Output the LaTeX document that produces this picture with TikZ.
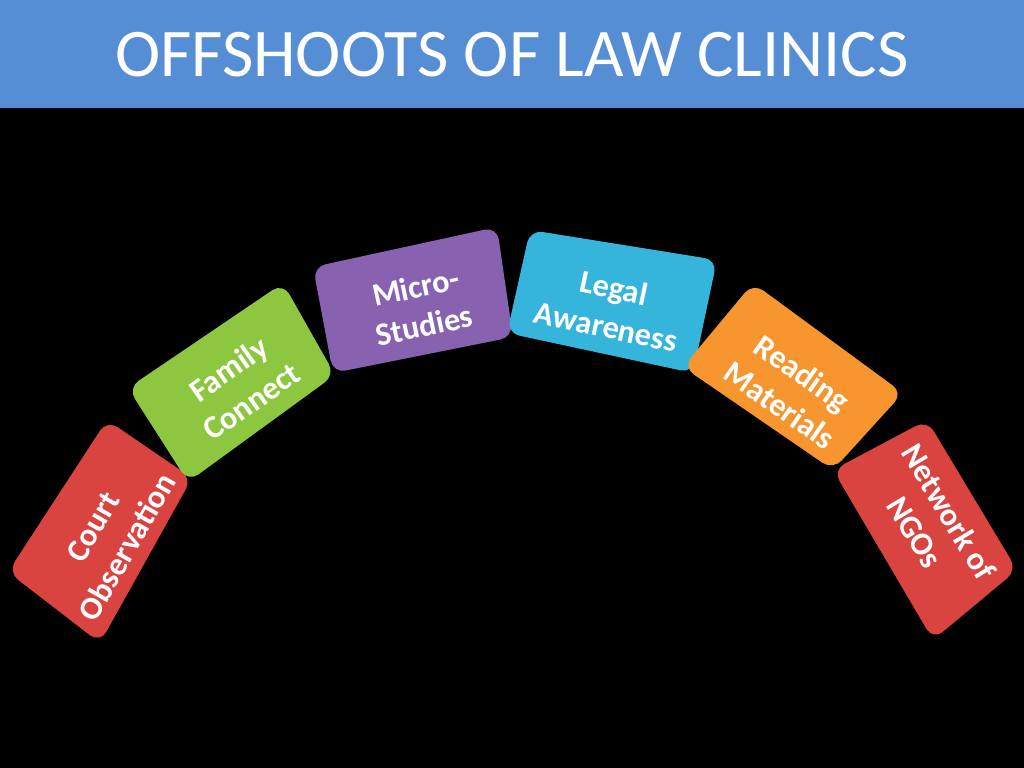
\documentclass[tikz,border=0pt]{standalone}
\usepackage{fontspec}
\setmainfont{Carlito}

\definecolor{titleblue}{HTML}{558ED5}
\definecolor{tilered}{HTML}{D94441}
\definecolor{tilegreen}{HTML}{8DC63F}
\definecolor{tilepurple}{HTML}{8862B0}
\definecolor{tilecyan}{HTML}{36B5DC}
\definecolor{tileorange}{HTML}{F7952F}

\begin{document}
\begin{tikzpicture}[
                x=0.025cm, y=-0.025cm,
                every node/.style={
                        text=white,
                        align=center,
                        font=\bfseries\fontsize{23}{28}\selectfont
                    },
                tile/.style={rounded corners=9pt}
            ]

            % Hintergrund und Titelleiste
            \fill[black] (0,0) rectangle (1024,768);
            \fill[titleblue] (0,0) rectangle (1024,108);
            \node[font=\fontsize{48.5}{58}\selectfont] (title) at (512,55) {OFFSHOOTS OF LAW CLINICS};

            % Kacheln im Bogen, von links nach rechts
            \fill[tile, tilered] (107,420) -- (192,478) -- (100,643) -- (8,572) -- cycle;
            \node[rotate=60] (court) at (110,537) {Court\\Observation};

            \fill[tile, tilegreen] (283,283) -- (335,375) -- (188,482) -- (128,388) -- cycle;
            \node[rotate=35] (family) at (240,385) {Family\\Connect};

            \fill[tile, tilepurple] (313,267) -- (497,227) -- (513,337) -- (333,373) -- cycle;
            \node[rotate=12] (micro) at (420,306) {Micro-\\Studies};

            \fill[tile, tilecyan] (530,230) -- (717,260) -- (693,373) -- (507,333) -- cycle;
            \node[rotate=-12] (legal) at (610,307) {Legal\\Awareness};

            \fill[tile, tileorange] (753,283) -- (903,393) -- (833,470) -- (683,367) -- cycle;
            \node[rotate=-35] (reading) at (791,389) {Reading\\Materials};

            \fill[tile, tilered] (927,420) -- (1017,570) -- (933,640) -- (833,470) -- cycle;
            \node[rotate=-59] (ngos) at (932,522) {Network of\\NGOs};

        \end{tikzpicture}
\end{document}
